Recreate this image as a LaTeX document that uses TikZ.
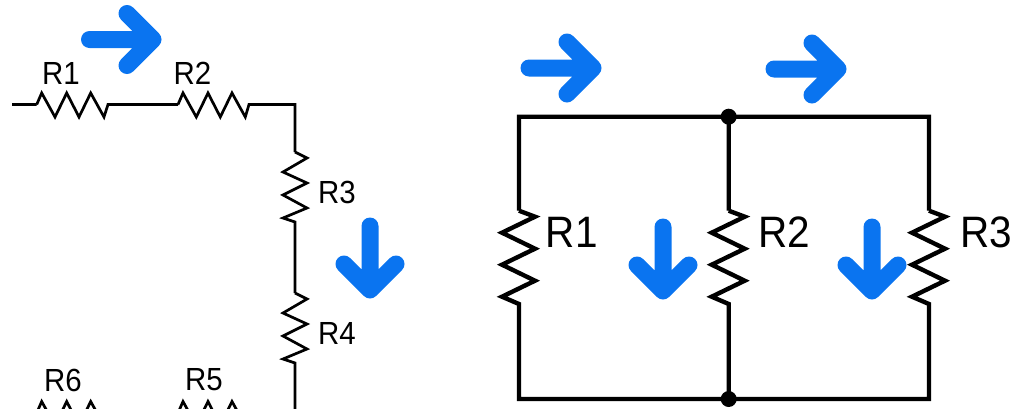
\documentclass[tikz,border=0pt]{standalone}
\usepackage{xcolor}
\usepackage{fontspec}
\usepackage{tikz}
\newfontfamily\cadfont[FakeStretch=0.92]{Liberation Sans}
\definecolor{flowblue}{HTML}{0A74F0}
\tikzstyle{thinwire} = [draw=black, line width=2.7pt, line join=miter]
\tikzstyle{thickwire} = [draw=black, line width=4.4pt, line join=miter]
\tikzstyle{smalllabel} = [inner sep=0pt, font=\cadfont\fontsize{32}{32}\selectfont]
\tikzstyle{biglabel} = [inner sep=0pt, font=\cadfont\fontsize{44}{44}\selectfont]
\tikzstyle{junction} = [draw=none, fill=black, circle, minimum size=16pt, inner sep=0pt]
\tikzstyle{hres} = [to path={(\tikztostart) -- ++(5, -11.5) -- ++(13.3, 24) -- ++(11.7, -24) -- ++(12.3, 24) -- ++(11.7, -24) -- ++(13.3, 24) -- (\tikztotarget)}]
\tikzstyle{vres} = [to path={(\tikztostart) -- ++(12, 6) -- ++(-24, 14) -- ++(24, 11) -- ++(-24, 12) -- ++(24, 13) -- ++(-24, 10) -- (\tikztotarget)}]
\tikzstyle{bigres} = [to path={(\tikztostart) -- ++(16, 6) -- ++(-33, 16) -- ++(33, 16) -- ++(-33, 16) -- ++(33, 16) -- ++(-33, 16) -- (\tikztotarget)}]
\tikzstyle{flowright} = [draw=flowblue, line width=17pt, line cap=round, line join=round, to path={(\tikztostart) -- (\tikztotarget) ++(-26, -26) -- (\tikztotarget) -- ++(-26, 26)}]
\tikzstyle{flowdown} = [draw=flowblue, line width=17pt, line cap=round, line join=round, to path={(\tikztostart) -- (\tikztotarget) ++(-26, -26) -- (\tikztotarget) -- ++(26, -26)}]

\begin{document}
\begin{tikzpicture}[x=1pt, y=-1pt]
  \clip (0, 0) rectangle (1013, 408);

  % series circuit
  \node[coordinate] at (12, 104.5) (in) {};
  \node[coordinate] at (36.7, 104.5) (r1a) {};
  \node[coordinate] at (108, 104.5) (r1b) {};
  \node[coordinate] at (178, 104.5) (r2a) {};
  \node[coordinate] at (249, 104.5) (r2b) {};
  \node[coordinate] at (295, 104.5) (corner) {};
  \node[coordinate] at (295, 152) (r3a) {};
  \node[coordinate] at (295, 222) (r3b) {};
  \node[coordinate] at (295, 293) (r4a) {};
  \node[coordinate] at (295, 363) (r4b) {};
  \node[coordinate] at (295, 413) (cornerb) {};
  \node[coordinate] at (249, 413) (r5b) {};
  \node[coordinate] at (178, 413) (r5a) {};
  \node[coordinate] at (108, 413) (r6b) {};
  \node[coordinate] at (36.7, 413) (r6a) {};
  \node[coordinate] at (12, 413) (out) {};

  \draw[thinwire] (in) -- (r1a) to[hres] (r1b) -- (r2a) to[hres] (r2b) -- (corner)
    -- (r3a) to[vres] (r3b) -- (r4a) to[vres] (r4b) -- (cornerb) -- (r5b);
  \draw[thinwire] (r5a) to[hres] (r5b);
  \draw[thinwire] (r6a) to[hres] (r6b);
  \draw[thinwire] (r6b) -- (r5a);
  \draw[thinwire] (out) -- (r6a);

  \node[smalllabel] at (61, 73) (sr1) {R1};
  \node[smalllabel] at (192.5, 73) (sr2) {R2};
  \node[smalllabel] at (337, 192) (sr3) {R3};
  \node[smalllabel] at (337, 333) (sr4) {R4};
  \node[smalllabel] at (204, 380) (sr5) {R5};
  \node[smalllabel] at (63, 380) (sr6) {R6};

  % parallel circuit
  \node[coordinate] at (519, 116.7) (tl) {};
  \node[junction] at (728.7, 116.7) (top) {};
  \node[coordinate] at (929, 116.7) (tr) {};
  \node[coordinate] at (519, 399) (bl) {};
  \node[junction] at (728.7, 399) (bot) {};
  \node[coordinate] at (929, 399) (br) {};
  \node[coordinate] at (519, 210.7) (p1a) {};
  \node[coordinate] at (519, 304) (p1b) {};
  \node[coordinate] at (728.7, 210.7) (p2a) {};
  \node[coordinate] at (728.7, 304) (p2b) {};
  \node[coordinate] at (929, 210.7) (p3a) {};
  \node[coordinate] at (929, 304) (p3b) {};

  \draw[thickwire] (top.center) -- (tl) -- (p1a) to[bigres] (p1b) -- (bl) -- (bot.center);
  \draw[thickwire] (top.center) -- (p2a) to[bigres] (p2b) -- (bot.center);
  \draw[thickwire] (top.center) -- (tr) -- (p3a) to[bigres] (p3b) -- (br) -- (bot.center);

  \node[biglabel] at (571.7, 232.5) (pr1) {R1};
  \node[biglabel] at (784, 232.5) (pr2) {R2};
  \node[biglabel] at (986, 232.5) (pr3) {R3};

  % current arrows
  \node[coordinate] at (89.5, 39.5) (a1s) {};
  \node[coordinate] at (153, 39.5) (a1e) {};
  \node[coordinate] at (370, 226) (a2s) {};
  \node[coordinate] at (370, 290) (a2e) {};
  \node[coordinate] at (529, 68) (a3s) {};
  \node[coordinate] at (593, 68) (a3e) {};
  \node[coordinate] at (774, 69) (a4s) {};
  \node[coordinate] at (838, 69) (a4e) {};
  \node[coordinate] at (663, 227) (a5s) {};
  \node[coordinate] at (663, 291) (a5e) {};
  \node[coordinate] at (872, 227) (a6s) {};
  \node[coordinate] at (872, 291) (a6e) {};

  \draw[flowright] (a1s) to (a1e);
  \draw[flowdown] (a2s) to (a2e);
  \draw[flowright] (a3s) to (a3e);
  \draw[flowright] (a4s) to (a4e);
  \draw[flowdown] (a5s) to (a5e);
  \draw[flowdown] (a6s) to (a6e);

\end{tikzpicture}
\end{document}
